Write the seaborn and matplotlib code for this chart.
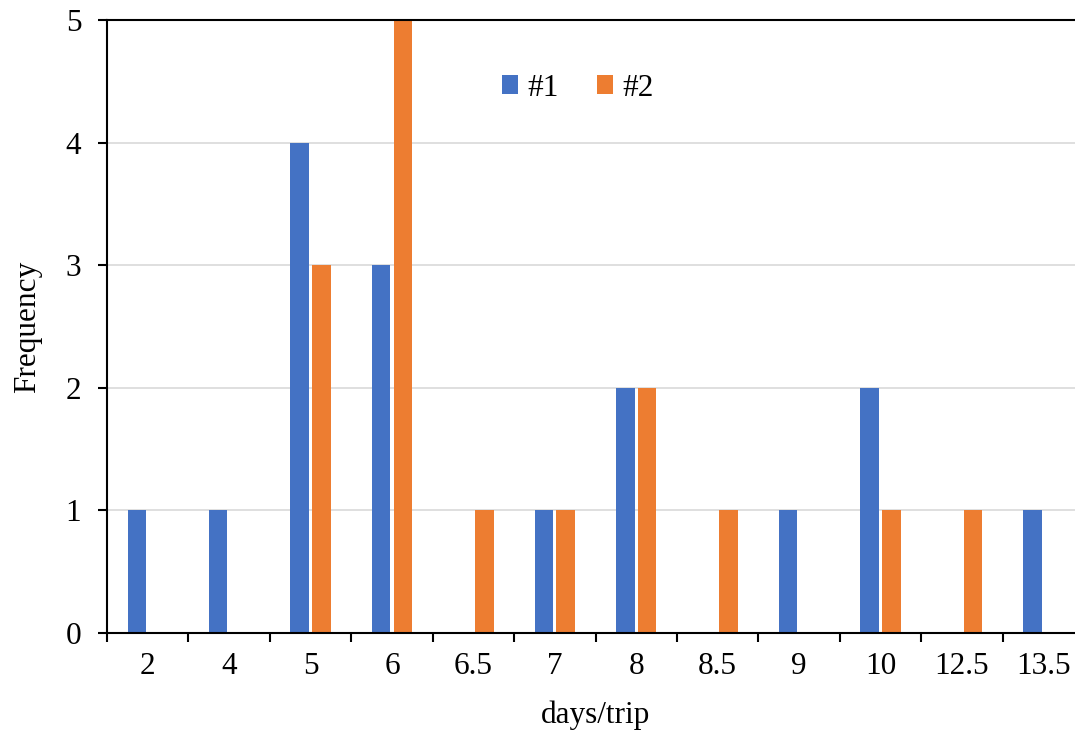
import matplotlib
matplotlib.use("Agg")
import matplotlib.pyplot as plt
import seaborn as sns
import pandas as pd
from matplotlib.ticker import MultipleLocator, FixedLocator

categories = ["2", "4", "5", "6", "6.5", "7", "8", "8.5", "9", "10", "12.5", "13.5"]
series1 = [1, 1, 4, 3, 0, 1, 2, 0, 1, 2, 0, 1]
series2 = [0, 0, 3, 5, 1, 1, 2, 1, 0, 1, 1, 0]
series_names = ["#1", "#2"]
colors = ["#4472C4", "#ED7D31"]

df = pd.DataFrame({
    "days/trip": categories * 2,
    "Frequency": series1 + series2,
    "series": [series_names[0]] * len(categories) + [series_names[1]] * len(categories),
})

sns.set_style("white")
plt.rcParams["font.family"] = ["Liberation Serif", "DejaVu Serif"]
plt.rcParams["text.color"] = "black"
plt.rcParams["axes.labelcolor"] = "black"
plt.rcParams["xtick.color"] = "black"
plt.rcParams["ytick.color"] = "black"

FS = 22.5

fig = plt.figure(figsize=(10.75, 7.31), dpi=100)
ax = fig.add_axes([107 / 1075, 98 / 731, 977 / 1075, 613 / 731])

sns.barplot(data=df, x="days/trip", y="Frequency", hue="series", order=categories,
            hue_order=series_names, palette=colors, width=0.536, gap=0.15,
            linewidth=0, saturation=1, ax=ax)

ax.set_ylim(0, 5)
ax.set_xlim(-0.5, len(categories) - 0.5)
ax.yaxis.set_major_locator(MultipleLocator(1))
ax.grid(axis="y", color="#D9D9D9", linewidth=1.2)
ax.set_axisbelow(True)

for s in ["left", "bottom", "top"]:
    ax.spines[s].set_visible(True)
    ax.spines[s].set_color("black")
    ax.spines[s].set_linewidth(1.5)
ax.spines["right"].set_visible(False)

ax.tick_params(axis="y", which="major", direction="out", length=6.5, width=1.5,
               labelsize=FS, pad=12, left=True, colors="black")
ax.tick_params(axis="x", which="major", length=0, labelsize=FS, pad=14, colors="black")
ax.xaxis.set_minor_locator(FixedLocator([i - 0.5 for i in range(len(categories) + 1)]))
ax.tick_params(axis="x", which="minor", direction="out", length=6.5, width=1.5, bottom=True)

ax.set_xlabel("days/trip", fontsize=FS, labelpad=14, color="black")
ax.set_ylabel("Frequency", fontsize=FS, labelpad=17, color="black")

handles, labels = ax.get_legend_handles_labels()
if ax.get_legend() is not None:
    ax.get_legend().remove()
ax.legend(handles, labels, ncol=2, frameon=False, fontsize=FS,
          handlelength=0.52, handleheight=0.52, handletextpad=0.3,
          columnspacing=1.22, loc="center", bbox_to_anchor=(578 / 1075, 1 - 88 / 731),
          bbox_transform=fig.transFigure)

fig.savefig("out.png", dpi=100)
